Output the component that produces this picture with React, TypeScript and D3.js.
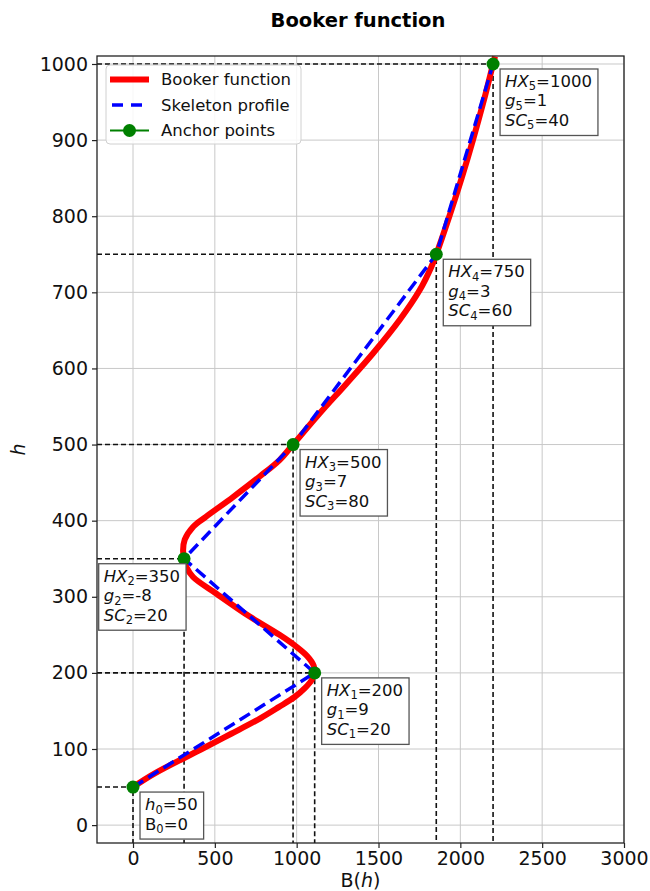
import * as d3 from "d3";
import { useEffect, useRef } from "react";

// anchor points of the skeleton profile
const anchorH = [50, 200, 350, 500, 750, 1000];
const anchorB = [0, 1110, 312, 978, 1853, 2200];
const anchorG = [null, 9, -8, 7, 3, 1];
const anchorSC = [null, 20, 20, 80, 60, 40];

// Booker function
const curveH = [50, 68, 99, 120, 140, 155, 168, 180, 190, 200, 210, 222, 235, 250, 274, 304, 326, 339, 350, 361, 375, 392, 405, 431, 458, 480, 500, 541, 580, 620, 664, 703, 734, 750, 800, 850, 900, 950, 1000, 1010];
const curveB = [0, 133, 412, 600, 775, 890, 985, 1050, 1090, 1110, 1103, 1065, 995, 895, 713, 510, 367, 326, 312, 306, 316, 368, 445, 611, 774, 897, 978, 1141, 1304, 1467, 1630, 1752, 1824, 1853, 1933, 2008, 2077, 2141, 2200, 2212];

const xTicks = [0, 500, 1000, 1500, 2000, 2500, 3000];
const yTicks = [0, 100, 200, 300, 400, 500, 600, 700, 800, 900, 1000];
const legendLabels = ["Booker function", "Skeleton profile", "Anchor points"];

const FONT = "DejaVu Sans, sans-serif";

export default function App() {
  const ref = useRef<SVGSVGElement>(null);

  useEffect(() => {
    const W = 650, H = 891;
    const m = { left: 97, right: 624, top: 56, bottom: 843 };
    const svg = d3.select(ref.current);
    svg.selectAll("*").remove();
    svg.attr("width", W).attr("height", H).style("background", "#fff");

    const x = d3.scaleLinear().domain([-220, 3000]).range([m.left, m.right]);
    const y = d3.scaleLinear().domain([-23.5, 1010.5]).range([m.bottom, m.top]);

    // grid
    const grid = svg.append("g").attr("stroke", "#c8c8c8").attr("stroke-width", 1);
    grid.selectAll("line.gx").data(xTicks).join("line")
      .attr("x1", (d) => x(d)).attr("x2", (d) => x(d))
      .attr("y1", m.top).attr("y2", m.bottom);
    grid.selectAll("line.gy").data(yTicks).join("line")
      .attr("y1", (d) => y(d)).attr("y2", (d) => y(d))
      .attr("x1", m.left).attr("x2", m.right);

    const plot = svg.append("g");
    const anchors = anchorH.map((h, i) => ({ h, b: anchorB[i], i }));

    // dashed guides to the axes
    plot.append("g").selectAll("path").data(anchors).join("path")
      .attr("d", (d) => `M${m.left},${y(d.h)}H${x(d.b)}V${m.bottom}`)
      .attr("fill", "none").attr("stroke", "#111").attr("stroke-width", 1.6)
      .attr("stroke-dasharray", "5,3");

    const curve = curveH.map((h, i) => ({ h, b: curveB[i] }));
    const line = d3.line<{ h: number; b: number }>()
      .x((d) => x(d.b)).y((d) => y(d.h));

    plot.append("path").datum(curve)
      .attr("d", line.curve(d3.curveCatmullRom.alpha(0.5)))
      .attr("fill", "none").attr("stroke", "red").attr("stroke-width", 6);

    plot.append("path").datum(anchors)
      .attr("d", line.curve(d3.curveLinear))
      .attr("fill", "none").attr("stroke", "blue").attr("stroke-width", 3.5)
      .attr("stroke-dasharray", "12,6");

    plot.append("g").selectAll("circle").data(anchors).join("circle")
      .attr("cx", (d) => x(d.b)).attr("cy", (d) => y(d.h)).attr("r", 6.5)
      .attr("fill", "green");

    // annotation boxes
    anchors.forEach((d) => {
      const g = plot.append("g");
      const t = g.append("text").attr("font-family", FONT).attr("font-size", 16.5).attr("fill", "#111");
      const rows: [string, string, string][] = d.i === 0
        ? [["h", "0", `=${d.h}`], ["B", "0", `=${d.b}`]]
        : [["HX", `${d.i}`, `=${d.h}`], ["g", `${d.i}`, `=${anchorG[d.i]}`], ["SC", `${d.i}`, `=${anchorSC[d.i]}`]];
      rows.forEach((r, k) => {
        const italic = !(d.i === 0 && k === 1);
        t.append("tspan").attr("x", 0).attr("y", k * 19.5)
          .attr("font-style", italic ? "italic" : "normal").text(r[0]);
        t.append("tspan").attr("font-size", 11.5).attr("dy", 3.5).text(r[1]);
        t.append("tspan").attr("dy", -3.5).text(r[2]);
      });
      const bb = (t.node() as SVGTextElement).getBBox();
      const bw = bb.width + 11;
      const bh = bb.height + 6;
      const px = x(d.b), py = y(d.h);
      const left = d.i === 2 ? px + 2 - bw : px + 7;
      const top = py + 5;
      g.insert("rect", "text").attr("x", left).attr("y", top).attr("width", bw).attr("height", bh)
        .attr("fill", "#fff").attr("stroke", "#555").attr("stroke-width", 1.3);
      t.attr("transform", `translate(${left + 5 - bb.x},${top + 3 - bb.y})`);
    });

    // spines and ticks
    svg.append("rect").attr("x", m.left).attr("y", m.top)
      .attr("width", m.right - m.left).attr("height", m.bottom - m.top)
      .attr("fill", "none").attr("stroke", "#222").attr("stroke-width", 1.3);

    const fmt = d3.format("d");
    const xAxis = svg.append("g").attr("transform", `translate(0,${m.bottom})`)
      .call(d3.axisBottom(x).tickValues(xTicks).tickFormat(fmt).tickSize(5).tickPadding(4));
    const yAxis = svg.append("g").attr("transform", `translate(${m.left},0)`)
      .call(d3.axisLeft(y).tickValues(yTicks).tickFormat(fmt).tickSize(5).tickPadding(4));
    [xAxis, yAxis].forEach((a) => {
      a.select(".domain").remove();
      a.selectAll("line").attr("stroke", "#222").attr("stroke-width", 1.2);
      a.selectAll("text").attr("font-family", FONT).attr("font-size", 19).attr("fill", "#111");
    });

    // legend
    const lg = svg.append("g");
    lg.append("rect").attr("x", 106).attr("y", 65).attr("width", 195).attr("height", 79)
      .attr("rx", 4).attr("fill", "#fff").attr("fill-opacity", 0.85)
      .attr("stroke", "#d0d0d0").attr("stroke-width", 1);
    legendLabels.forEach((lab, i) => {
      const ly = 79.5 + i * 25.5;
      const hl = lg.append("line").attr("x1", 110).attr("x2", 149).attr("y1", ly).attr("y2", ly);
      if (i === 0) hl.attr("stroke", "red").attr("stroke-width", 6);
      if (i === 1) hl.attr("stroke", "blue").attr("stroke-width", 3.5).attr("stroke-dasharray", "11,8").attr("stroke-dashoffset", -2);
      if (i === 2) {
        hl.attr("stroke", "green").attr("stroke-width", 2);
        lg.append("circle").attr("cx", 129.5).attr("cy", ly).attr("r", 6.5).attr("fill", "green");
      }
      lg.append("text").attr("x", 161).attr("y", ly).attr("dy", "0.35em")
        .attr("font-family", FONT).attr("font-size", 16.5).attr("fill", "#111").text(lab);
    });

    // titles
    svg.append("text").attr("x", 358).attr("y", 27).attr("text-anchor", "middle")
      .attr("font-family", FONT).attr("font-weight", "bold").attr("font-size", 19.5)
      .text("Booker function");
    const xl = svg.append("text").attr("x", (m.left + m.right) / 2).attr("y", 887)
      .attr("text-anchor", "middle").attr("font-family", FONT).attr("font-size", 19).attr("fill", "#111");
    xl.append("tspan").text("B(");
    xl.append("tspan").attr("font-style", "italic").text("h");
    xl.append("tspan").text(")");
    svg.append("text").attr("transform", `translate(25,${(m.top + m.bottom) / 2}) rotate(-90)`)
      .attr("text-anchor", "middle").attr("font-family", FONT).attr("font-style", "italic")
      .attr("font-size", 19).attr("fill", "#111").text("h");
  }, []);

  return (
    <svg ref={ref} style={{ position: "absolute", left: 0, top: 0, display: "block" }} />
  );
}
